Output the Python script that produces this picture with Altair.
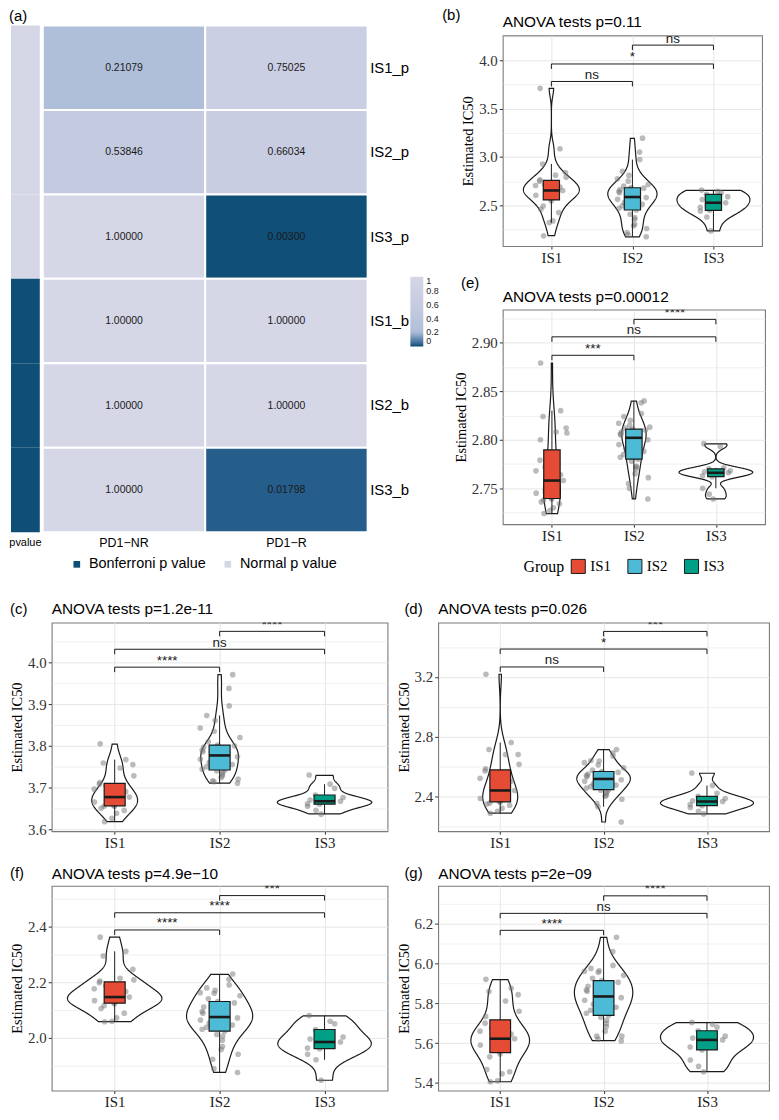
import altair as alt
import pandas as pd

SANS = "Liberation Sans"
SERIF = "Liberation Serif"
GRID = "#e6e6e6"
INK = "#1a1a1a"

GROUPS = ["IS1", "IS2", "IS3"]
GROUP_COLORS = ["#E64B35", "#4DBBD5", "#00A087"]

HM_ROWS = ["IS1_p", "IS2_p", "IS3_p", "IS1_b", "IS2_b", "IS3_b"]
HM_COLS = ["PD1\u2212NR", "PD1\u2212R"]
HM_PD1_NR = [0.21079, 0.53846, 1.00000, 1.00000, 1.00000, 1.00000]
HM_PD1_R = [0.75025, 0.66034, 0.00300, 1.00000, 1.00000, 0.01798]
ANNO_TYPE = ["Normal p value"] * 3 + ["Bonferroni p value"] * 3
ANNO_LEVELS = ["Bonferroni p value", "Normal p value"]
ANNO_COLORS = ["#0f4f77", "#d5d7e7"]
ANNO_LABEL = "pvalue"
CB_STOPS = [0, 0.003, 0.018, 0.21, 0.54, 0.75, 1]
CB_COLORS = ["#0b4a72", "#104f77", "#255d8b", "#b0bfd9", "#c4cadf", "#cbcfe3", "#d5d7e7"]
CB_TICKS = [0, 0.2, 0.4, 0.6, 0.8, 1]

B_IS1 = [2.185, 2.322, 2.339, 2.425, 2.459, 2.493, 2.545, 2.568, 2.585, 2.605, 2.620, 2.635, 2.648, 2.654,
         2.662, 2.675, 2.690, 2.705, 2.716, 2.750, 2.765, 2.790, 2.812, 2.840, 2.928, 3.086, 3.710]
B_IS2 = [2.175, 2.195, 2.219, 2.260, 2.288, 2.305, 2.356, 2.373, 2.408, 2.452, 2.470, 2.495, 2.510, 2.530,
         2.548, 2.562, 2.575, 2.580, 2.586, 2.600, 2.615, 2.630, 2.645, 2.654, 2.664, 2.672, 2.678, 2.682,
         2.700, 2.716, 2.750, 2.774, 2.810, 2.853, 2.973, 3.051, 3.195]
B_IS3 = [2.236, 2.380, 2.442, 2.449, 2.480, 2.503, 2.527, 2.560, 2.590, 2.613, 2.630, 2.645, 2.658]

E_IS1 = [2.724, 2.727, 2.730, 2.734, 2.736, 2.738, 2.739, 2.740, 2.743, 2.745, 2.748, 2.750, 2.754, 2.758,
         2.760, 2.764, 2.764, 2.768, 2.772, 2.779, 2.800, 2.807, 2.808, 2.812, 2.824, 2.830, 2.879]
E_IS2 = [2.739, 2.750, 2.755, 2.761, 2.765, 2.770, 2.772, 2.773, 2.778, 2.780, 2.782, 2.785, 2.788, 2.791,
         2.793, 2.795, 2.798, 2.800, 2.802, 2.803, 2.804, 2.805, 2.806, 2.807, 2.808, 2.809, 2.810, 2.811,
         2.812, 2.813, 2.815, 2.817, 2.820, 2.824, 2.827, 2.838, 2.840]
E_IS3 = [2.739, 2.744, 2.750, 2.762, 2.763, 2.765, 2.766, 2.767, 2.768, 2.770, 2.771, 2.793, 2.796]

C_IS1 = [3.618, 3.626, 3.638, 3.645, 3.650, 3.655, 3.655, 3.657, 3.661, 3.665, 3.670, 3.674, 3.676, 3.677,
         3.680, 3.685, 3.690, 3.696, 3.704, 3.708, 3.712, 3.728, 3.747, 3.755, 3.759, 3.767, 3.805]
C_IS2 = [3.710, 3.714, 3.716, 3.720, 3.724, 3.728, 3.733, 3.737, 3.740, 3.742, 3.744, 3.750, 3.755, 3.760,
         3.765, 3.768, 3.771, 3.774, 3.777, 3.780, 3.783, 3.786, 3.790, 3.794, 3.797, 3.798, 3.800, 3.802,
         3.810, 3.820, 3.835, 3.843, 3.861, 3.873, 3.896, 3.938, 3.971]
C_IS3 = [3.636, 3.645, 3.655, 3.660, 3.661, 3.664, 3.667, 3.670, 3.676, 3.682, 3.698, 3.708, 3.730]

D_IS1 = [2.286, 2.300, 2.320, 2.340, 2.348, 2.355, 2.360, 2.366, 2.375, 2.385, 2.400, 2.415, 2.428, 2.439,
         2.450, 2.470, 2.501, 2.520, 2.550, 2.570, 2.584, 2.614, 2.680, 2.680, 2.713, 2.760, 3.217]
D_IS2 = [2.228, 2.330, 2.352, 2.380, 2.400, 2.407, 2.420, 2.430, 2.440, 2.444, 2.455, 2.465, 2.475, 2.483,
         2.490, 2.500, 2.506, 2.511, 2.516, 2.520, 2.526, 2.532, 2.538, 2.545, 2.549, 2.555, 2.560, 2.566,
         2.575, 2.590, 2.610, 2.625, 2.636, 2.640, 2.669, 2.690, 2.713]
D_IS3 = [2.282, 2.300, 2.325, 2.337, 2.345, 2.350, 2.365, 2.370, 2.385, 2.400, 2.420, 2.472, 2.556]

F_IS1 = [2.057, 2.059, 2.071, 2.088, 2.105, 2.115, 2.122, 2.126, 2.130, 2.133, 2.137, 2.140, 2.143, 2.146,
         2.150, 2.158, 2.166, 2.176, 2.187, 2.198, 2.204, 2.208, 2.214, 2.246, 2.294, 2.311, 2.362]
F_IS2 = [1.874, 1.888, 1.922, 1.940, 1.957, 1.968, 1.990, 2.005, 2.011, 2.023, 2.030, 2.037, 2.045, 2.052,
         2.059, 2.063, 2.067, 2.071, 2.074, 2.078, 2.083, 2.088, 2.094, 2.099, 2.110, 2.118, 2.125, 2.130,
         2.140, 2.151, 2.160, 2.162, 2.170, 2.179, 2.190, 2.210, 2.229]
F_IS3 = [1.846, 1.920, 1.940, 1.960, 1.962, 1.975, 1.984, 1.995, 2.002, 2.029, 2.050, 2.059, 2.079]

G_IS1 = [5.406, 5.411, 5.446, 5.456, 5.467, 5.531, 5.545, 5.560, 5.575, 5.590, 5.600, 5.611, 5.616, 5.622,
         5.626, 5.632, 5.645, 5.660, 5.675, 5.700, 5.734, 5.760, 5.811, 5.843, 5.859, 5.875, 5.920]
G_IS2 = [5.611, 5.620, 5.635, 5.635, 5.660, 5.683, 5.699, 5.715, 5.730, 5.739, 5.750, 5.765, 5.780, 5.795,
         5.805, 5.815, 5.822, 5.828, 5.834, 5.843, 5.851, 5.860, 5.867, 5.875, 5.885, 5.895, 5.905, 5.914,
         5.925, 5.940, 5.955, 5.960, 5.963, 5.975, 5.990, 6.059, 6.131]
G_IS3 = [5.456, 5.483, 5.515, 5.566, 5.580, 5.595, 5.616, 5.625, 5.635, 5.662, 5.680, 5.694, 5.704]

B_BRACKETS = [(1, 2, 3.781, "ns"), (1, 3, 3.962, "*"), (2, 3, 4.157, "ns")]
E_BRACKETS = [(1, 2, 2.887, "***"), (1, 3, 2.906, "ns"), (2, 3, 2.924, "****")]
C_BRACKETS = [(1, 2, 3.989, "****"), (1, 3, 4.032, "ns"), (2, 3, 4.075, "****")]
D_BRACKETS = [(1, 2, 3.266, "ns"), (1, 3, 3.386, "*"), (2, 3, 3.504, "***")]
F_BRACKETS = [(1, 2, 2.388, "****"), (1, 3, 2.450, "****"), (2, 3, 2.512, "***")]
G_BRACKETS = [(1, 2, 6.166, "****"), (1, 3, 6.251, "ns"), (2, 3, 6.339, "****")]

TITLES = {
    "b": "ANOVA tests p=0.11",
    "e": "ANOVA tests p=0.00012",
    "c": "ANOVA tests p=1.2e-11",
    "d": "ANOVA tests p=0.026",
    "f": "ANOVA tests p=4.9e\u221210",
    "g": "ANOVA tests p=2e\u221209",
}

JITTER = "datum.gidx + 0.2*(2*((abs(sin(datum.rn*12.9898 + datum.gidx*78.233))*43758.5453) % 1) - 1)"


def frame_box(L, T, W, H, R, B):
    # invisible rectangle that fixes each panel's layout bounds
    return alt.Chart(pd.DataFrame({"k": [0]})).mark_rect(opacity=0).encode(
        x=alt.value(-L), x2=alt.value(W + R), y=alt.value(-T), y2=alt.value(H + B)
    )


def spacer():
    return alt.Chart(pd.DataFrame({"k": [0]})).mark_rect(opacity=0).encode(
        x=alt.value(0), x2=alt.value(1), y=alt.value(0), y2=alt.value(1)
    ).properties(width=1, height=1)


def text_mark(txt, lx, ly, size=15):
    return alt.Chart(pd.DataFrame({"t": [txt]})).mark_text(
        font=SANS, fontSize=size, align="left", baseline="middle", color="black"
    ).encode(x=alt.value(lx), y=alt.value(ly), text="t:N")


def violin_panel(vals, key, letter_xy, title_y, ydom, major, minor, fmt, brackets, box, legend=None):
    L, T, W, H, R, Bt = box
    rows = []
    for i, (g, vs) in enumerate(zip(GROUPS, vals)):
        for v in vs:
            rows.append({"group": g, "gidx": i + 1, "value": v})
    df = pd.DataFrame(rows)
    lo, hi = ydom
    xs = alt.Scale(domain=[0.4, 3.6], nice=False, zero=False)
    ys = alt.Scale(domain=[lo, hi], nice=False, zero=False)
    maj = "[" + ",".join(str(m) for m in major) + "]"
    is_minor = f"indexof({maj}, datum.value) < 0"
    lab_x = "[" + ",".join(f"'{g}'" for g in GROUPS) + "][datum.value - 1]"

    xaxis = alt.Axis(title=None, values=[1, 2, 3], labelExpr=lab_x, grid=True, gridColor=GRID, gridWidth=1,
                     domain=False, tickSize=3, tickColor="#333333", labelFont=SERIF, labelFontSize=15,
                     labelColor=INK, labelPadding=1.5, labelFlush=False, labelOverlap=False,
                     minExtent=0)
    yaxis = alt.Axis(title="Estimated IC50", titleFont=SERIF, titleFontSize=14.5, titleFontWeight="normal",
                     titleColor="black", titlePadding=3, values=sorted(major + minor),
                     labelExpr=f"{is_minor} ? '' : format(datum.value, '{fmt}')",
                     grid=True, gridColor=GRID,
                     gridWidth={"condition": {"test": is_minor, "value": 0.6}, "value": 1.0},
                     tickOpacity={"condition": {"test": is_minor, "value": 0}, "value": 1},
                     domain=False, tickSize=3.5, tickColor="#333333", labelFont=SERIF, labelFontSize=15,
                     labelColor="#333333", labelPadding=2, labelOverlap=False, labelFlush=False,
                     minExtent=0)

    def X(f):
        return alt.X(f, scale=xs, axis=xaxis)

    def Y(f):
        return alt.Y(f, scale=ys, axis=yaxis)

    base = alt.Chart(df)
    violin = base.transform_joinaggregate(
        vmin="min(value)", vmax="max(value)", groupby=["group"]
    ).transform_density(
        "value", groupby=["group", "gidx", "vmin", "vmax"], as_=["value", "density"], steps=400
    ).transform_filter(
        "datum.value >= datum.vmin && datum.value <= datum.vmax"
    ).transform_joinaggregate(dmax="max(density)").transform_calculate(
        xl="datum.gidx - 0.45*datum.density/datum.dmax",
        xr="datum.gidx + 0.45*datum.density/datum.dmax",
    ).mark_area(orient="horizontal", fill="white", stroke=INK, strokeWidth=1.2).encode(
        y=Y("value:Q"), x=X("xl:Q"), x2="xr:Q", detail="group:N",
    )

    pts = base.transform_window(rn="row_number()", groupby=["group"]).transform_calculate(
        jx=JITTER
    ).mark_circle(size=32, color="#777777", opacity=0.5).encode(x=X("jx:Q"), y=Y("value:Q"))

    stats = base.transform_joinaggregate(
        q1="q1(value)", q3="q3(value)", med="median(value)", groupby=["group"]
    ).transform_calculate(
        lof="datum.q1 - 1.5*(datum.q3 - datum.q1)", hif="datum.q3 + 1.5*(datum.q3 - datum.q1)"
    ).transform_filter(
        "datum.value >= datum.lof && datum.value <= datum.hif"
    ).transform_aggregate(
        wlo="min(value)", whi="max(value)", bq1="min(q1)", bq3="min(q3)", bmed="min(med)",
        groupby=["group", "gidx"],
    ).transform_calculate(bl="datum.gidx - 0.1", br="datum.gidx + 0.1")

    whisker = stats.mark_rule(color=INK, strokeWidth=1).encode(x=X("gidx:Q"), y=Y("wlo:Q"), y2="whi:Q")
    boxes = stats.mark_rect(stroke=INK, strokeWidth=1.2).encode(
        x=X("bl:Q"), x2="br:Q", y=Y("bq1:Q"), y2="bq3:Q",
        fill=alt.Fill("group:N", scale=alt.Scale(domain=GROUPS, range=GROUP_COLORS), legend=legend),
    )
    median = stats.mark_rule(color=INK, strokeWidth=2.6).encode(x=X("bl:Q"), x2="br:Q", y=Y("bmed:Q"))

    bdf = pd.DataFrame({
        "xa": [b[0] for b in brackets], "xb": [b[1] for b in brackets],
        "y": [b[2] for b in brackets], "label": [b[3] for b in brackets],
    })
    tick = 5.0 / H * (hi - lo)
    bb = alt.Chart(bdf).transform_calculate(yt=f"datum.y - {tick}", xm="(datum.xa + datum.xb)/2")
    hline = bb.mark_rule(color=INK, strokeWidth=1).encode(x=X("xa:Q"), x2="xb:Q", y=Y("y:Q"))
    ltick = bb.mark_rule(color=INK, strokeWidth=1).encode(x=X("xa:Q"), y=Y("y:Q"), y2="yt:Q")
    rtick = bb.mark_rule(color=INK, strokeWidth=1).encode(x=X("xb:Q"), y=Y("y:Q"), y2="yt:Q")
    blab = bb.mark_text(font=SANS, fontSize=13.5, baseline="alphabetic", dy=-2.5, clip=True, color=INK).encode(
        x=X("xm:Q"), y=Y("y:Q"), text="label:N"
    )

    chart = alt.layer(
        violin, pts, whisker, boxes, median, hline, ltick, rtick, blab,
        text_mark(f"({key})", letter_xy[0], letter_xy[1]),
        text_mark(TITLES[key], 0, title_y, size=15.5),
        frame_box(*box),
    ).properties(
        width=W, height=H,
        view=alt.ViewBackground(stroke="#7a7a7a", strokeWidth=1.1),
    )
    return chart


hm_df = pd.DataFrame({
    "row": HM_ROWS * 2,
    "col": [HM_COLS[0]] * len(HM_ROWS) + [HM_COLS[1]] * len(HM_ROWS),
    "p": HM_PD1_NR + HM_PD1_R,
    "type": ANNO_TYPE * 2,
})
band = alt.Scale(paddingInner=0, paddingOuter=0)
xh = alt.X("col:N", sort=HM_COLS, scale=band,
           axis=alt.Axis(title=None, labelAngle=0, ticks=False, domain=False, labelFont=SANS,
                         labelFontSize=12.5, labelColor="black", labelPadding=4))
yh = alt.Y("row:N", sort=HM_ROWS, scale=band,
           axis=alt.Axis(title=None, orient="right", ticks=False, domain=False, labelFont=SANS,
                         labelFontSize=15, labelColor="black", labelPadding=2, minExtent=0))
cells = alt.Chart(hm_df).mark_rect(stroke="white", strokeWidth=2).encode(
    x=xh, y=yh,
    color=alt.Color("p:Q", scale=alt.Scale(domain=CB_STOPS, range=CB_COLORS, interpolate="rgb"),
                    legend=alt.Legend(orient="none", legendX=370, legendY=253, direction="vertical", title=None,
                                      gradientLength=70, gradientThickness=13, gradientStrokeWidth=0,
                                      values=CB_TICKS, format="~g", labelFont=SANS, labelFontSize=9,
                                      labelBaseline="middle", labelColor="#222222", labelOffset=3,
                                      labelOverlap=False, padding=0)),
)
cell_text = alt.Chart(hm_df).mark_text(font=SANS, fontSize=10.5, color=INK).encode(
    x=xh, y=yh, text=alt.Text("p:Q", format=".5f")
)
anno_legend = alt.Chart(hm_df).mark_square(opacity=0).encode(
    x=xh, y=yh,
    fill=alt.Fill("type:N", scale=alt.Scale(domain=ANNO_LEVELS, range=ANNO_COLORS),
                  legend=alt.Legend(orient="none", legendX=27, legendY=535, direction="horizontal", title=None,
                                    symbolType="square", symbolSize=45, symbolOpacity=1, symbolStrokeWidth=0,
                                    labelFont=SANS, labelFontSize=14.5, labelColor="black", columnPadding=14,
                                    labelOffset=5, padding=0)),
)
heat = alt.layer(cells, cell_text, anno_legend, frame_box(1, 17, 327, 510, 73, 53)).properties(
    width=327, height=510
)

anno_df = pd.DataFrame({"row": HM_ROWS, "type": ANNO_TYPE, "col": [ANNO_LABEL] * len(HM_ROWS)})
anno_bar = alt.Chart(anno_df).mark_rect().encode(
    x=alt.X("col:N", scale=band,
            axis=alt.Axis(title=None, labelAngle=0, ticks=False, domain=False, labelFont=SANS,
                          labelFontSize=11, labelColor="black", labelPadding=4)),
    y=alt.Y("row:N", sort=HM_ROWS, scale=band, axis=None),
    color=alt.Color("type:N", scale=alt.Scale(domain=ANNO_LEVELS, range=ANNO_COLORS), legend=None),
)
anno = alt.layer(anno_bar, text_mark("(a)", -2, -9.5), frame_box(2, 17, 29, 510, 2, 53)).properties(
    width=29, height=510
)

RES = dict(color="independent", fill="independent")
panel_a = alt.hconcat(anno, heat, spacing=0).resolve_scale(**RES)

group_legend = alt.Legend(orient="none", legendX=21, legendY=250, direction="horizontal", title="Group",
                          titleOrient="left", titleFont=SERIF, titleFontSize=16, titleFontWeight="normal",
                          titleColor="black", titlePadding=6, labelFont=SERIF, labelFontSize=15,
                          labelColor="black", symbolType="square", symbolSize=200, symbolStrokeColor=INK,
                          symbolStrokeWidth=1, columnPadding=14, labelOffset=4, padding=0)

panel_b = violin_panel([B_IS1, B_IS2, B_IS3], "b", (-61, -21), -13, (2.079, 4.257),
                       [2.5, 3.0, 3.5, 4.0], [2.25, 2.75, 3.25, 3.75, 4.25], ".1f", B_BRACKETS,
                       (62, 29, 261, 212, 4, 21))
panel_e = violin_panel([E_IS1, E_IS2, E_IS3], "e", (-42, -27), -13, (2.713, 2.934),
                       [2.75, 2.8, 2.85, 2.9], [2.725, 2.775, 2.825, 2.875, 2.925], ".2f", E_BRACKETS,
                       (62, 40, 264, 216, 1, 60), legend=group_legend)
panel_c = violin_panel([C_IS1, C_IS2, C_IS3], "c", (-42, -14), -14, (3.595, 4.096),
                       [3.6, 3.7, 3.8, 3.9, 4.0], [3.65, 3.75, 3.85, 3.95, 4.05], ".1f", C_BRACKETS,
                       (42, 34, 338, 210, 5, 22))
panel_d = violin_panel([D_IS1, D_IS2, D_IS3], "d", (-34, -14), -14, (2.166, 3.563),
                       [2.4, 2.8, 3.2], [2.2, 2.6, 3.0, 3.4], ".1f", D_BRACKETS,
                       (44, 34, 333, 210, 1, 22))
panel_f = violin_panel([F_IS1, F_IS2, F_IS3], "f", (-42, -13), -12, (1.809, 2.547),
                       [2.0, 2.2, 2.4], [1.9, 2.1, 2.3, 2.5], ".1f", F_BRACKETS,
                       (42, 28, 338, 206, 5, 20))
panel_g = violin_panel([G_IS1, G_IS2, G_IS3], "g", (-34, -13), -12, (5.362, 6.389),
                       [5.4, 5.6, 5.8, 6.0, 6.2], [5.5, 5.7, 5.9, 6.1, 6.3], ".1f", G_BRACKETS,
                       (44, 28, 333, 206, 1, 20))

# Vega grid layout aligns plot origins: spacers with negative spacing shift panels into place
inner_be = alt.vconcat(panel_b, panel_e, spacing=1).resolve_scale(**RES)
col_be = alt.vconcat(spacer(), inner_be, spacing=-21).resolve_scale(**RES)
row1 = alt.hconcat(panel_a, col_be, spacing=0).resolve_scale(**RES)
row2 = alt.hconcat(spacer(), alt.hconcat(panel_c, panel_d, spacing=0).resolve_scale(**RES),
                   spacing=-3).resolve_scale(**RES)
row3 = alt.hconcat(spacer(), alt.hconcat(panel_f, panel_g, spacing=0).resolve_scale(**RES),
                   spacing=-3).resolve_scale(**RES)

chart = alt.vconcat(row1, row2, row3, spacing=3).resolve_scale(**RES).properties(
    padding={"top": -6, "left": 0, "right": 0, "bottom": 0}, background="white"
).configure_view(strokeWidth=0)

chart.save("out.html", embed_options={"renderer": "svg", "actions": False})
